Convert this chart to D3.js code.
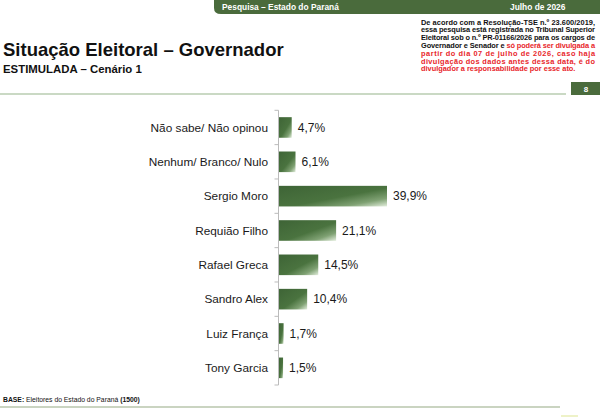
<!DOCTYPE html>
<html><head><meta charset="utf-8">
<script src="https://cdn.jsdelivr.net/npm/d3@7"></script>
<style>body{margin:0;background:#fff}svg{display:block;font-family:"Liberation Sans",Arial,sans-serif}</style>
</head><body>
<svg id="c" width="600" height="417"></svg>
<script>
const categories = ["Não sabe/ Não opinou","Nenhum/ Branco/ Nulo","Sergio Moro","Requião Filho","Rafael Greca","Sandro Alex","Luiz França","Tony Garcia"];
const values = [4.7, 6.1, 39.9, 21.1, 14.5, 10.4, 1.7, 1.5];
const valueLabels = ["4,7%","6,1%","39,9%","21,1%","14,5%","10,4%","1,7%","1,5%"];
const title = "Situação Eleitoral – Governador";
const subtitle = "ESTIMULADA – Cenário 1";
const headerLeft = "Pesquisa – Estado do Paraná";
const headerRight = "Julho de 2026";
const pageNum = "8";
const disclaimer = [
  [["De acordo com a Resolução-TSE n.º 23.600/2019,", "#111"]],
  [["essa pesquisa está registrada no Tribunal Superior", "#111"]],
  [["Eleitoral sob o n.º PR-01166/2026 para os cargos de", "#111"]],
  [["Governador e Senador e ", "#111"], ["só poderá ser divulgada a", "#e8262b"]],
  [["partir do dia 07 de julho de 2026, caso haja", "#e8262b"]],
  [["divulgação dos dados antes dessa data, é do", "#e8262b"]],
  [["divulgador a responsabilidade por esse ato.", "#e8262b"]]
];

const svg = d3.select("#c");
const green = "#4a6b3c";

// header band
svg.append("path")
  .attr("d", "M214,0 H600 V14 H221 Q214,14 214,8 Z").attr("fill", green);
svg.append("text").attr("x", 222).attr("y", 10).attr("fill", "#fff").attr("font-size", 8.4).attr("font-weight", "bold").text(headerLeft);
svg.append("text").attr("x", 510).attr("y", 10).attr("fill", "#fff").attr("font-size", 8.4).attr("font-weight", "bold").text(headerRight);

// title
svg.append("text").attr("x", 3).attr("y", 56).attr("font-size", 18.5).attr("font-weight", "bold").attr("fill", "#111").text(title);
svg.append("text").attr("x", 3).attr("y", 73).attr("font-size", 11.4).attr("font-weight", "bold").attr("fill", "#111").text(subtitle);

// disclaimer
const dg = svg.append("g");
disclaimer.forEach((line, i) => {
  const t = dg.append("text").attr("x", 421).attr("y", 24.5 + i * 7.8)
    .attr("font-size", 7.4).attr("font-weight", "bold");
  if (i < disclaimer.length - 1) t.attr("textLength", 174).attr("lengthAdjust", "spacing");
  line.forEach(([s, c]) => t.append("tspan").attr("fill", c).text(s));
});

// separator line + page box
svg.append("line").attr("x1", 0).attr("x2", 566).attr("y1", 94).attr("y2", 94).attr("stroke", "#b9cdb0").attr("stroke-width", 1.5);
svg.append("rect").attr("x", 571).attr("y", 82).attr("width", 29).attr("height", 13).attr("fill", green);
svg.append("text").attr("x", 586).attr("y", 92).attr("text-anchor", "middle").attr("fill", "#fff").attr("font-size", 8).attr("font-weight", "bold").text(pageNum);

// chart
const x0 = 279;
const x = d3.scaleLinear().domain([0, 39.9]).range([x0, 387]);
const y = d3.scaleBand().domain(categories).range([110.3, 385]).paddingInner(0.4).paddingOuter(0.2);

const defs = svg.append("defs");
const grad = defs.append("linearGradient").attr("id", "bg").attr("x1", 0).attr("y1", 0).attr("x2", 1).attr("y2", 1);
grad.append("stop").attr("offset", 0).attr("stop-color", "#3e6436");
grad.append("stop").attr("offset", 0.55).attr("stop-color", "#4a733f");
grad.append("stop").attr("offset", 0.8).attr("stop-color", "#7fa173");
grad.append("stop").attr("offset", 1).attr("stop-color", "#e3eedd");

svg.append("g").selectAll("rect").data(values).join("rect")
  .attr("x", x0).attr("y", (d, i) => y(categories[i]))
  .attr("width", d => x(d) - x0).attr("height", y.bandwidth())
  .attr("fill", "url(#bg)");

// axis
const axG = svg.append("g").attr("transform", `translate(${x0 - 0.5},0)`);
const step = y.step();
const bounds = d3.range(categories.length + 1).map(i => 110.3 + i * step);
axG.append("line").attr("y1", bounds[0]).attr("y2", bounds[bounds.length - 1]).attr("stroke", "#bbb");
axG.selectAll(".tk").data(bounds).join("line").attr("class", "tk")
  .attr("x1", -4).attr("x2", 0).attr("y1", d => d).attr("y2", d => d).attr("stroke", "#bbb");

svg.append("g").selectAll("text").data(categories).join("text")
  .attr("x", 268).attr("y", d => y(d) + y.bandwidth() / 2 + 4.2)
  .attr("text-anchor", "end").attr("font-size", 11.8).attr("fill", "#1a1a1a").text(d => d);

svg.append("g").selectAll("text").data(values).join("text")
  .attr("x", d => x(d) + 6).attr("y", (d, i) => y(categories[i]) + y.bandwidth() / 2 + 4.2)
  .attr("font-size", 12).attr("fill", "#1a1a1a").text((d, i) => valueLabels[i]);

// footer
const ft = svg.append("text").attr("x", 3).attr("y", 402).attr("font-size", 6.8).attr("fill", "#111");
ft.append("tspan").attr("font-weight", "bold").text("BASE:");
ft.append("tspan").text(" Eleitores do Estado do Paraná ");
ft.append("tspan").attr("font-weight", "bold").text("(1500)");
svg.append("line").attr("x1", 0).attr("x2", 560).attr("y1", 407).attr("y2", 407).attr("stroke", "#b8c6ac").attr("stroke-width", 1.5);
svg.append("line").attr("x1", 561).attr("x2", 578).attr("y1", 416).attr("y2", 416).attr("stroke", "#eef2c8").attr("stroke-width", 2);
</script>
</body></html>
